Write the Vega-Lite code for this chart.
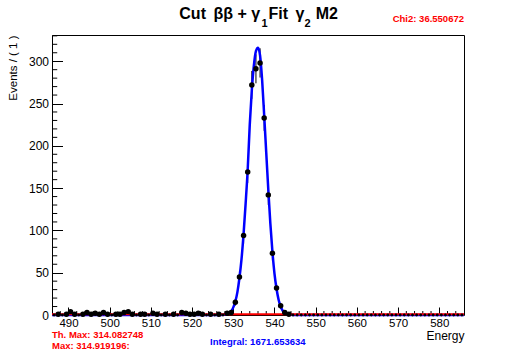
{
  "$schema": "https://vega.github.io/schema/vega-lite/v6.json",
  "width": 412,
  "height": 280,
  "autosize": {"type": "none"},
  "padding": {"left": 52, "top": 35, "right": 52, "bottom": 36},
  "background": "white",
  "config": {
    "view": {"stroke": "black", "strokeWidth": 1},
    "font": "Liberation Sans",
    "axis": {"labelFont": "Liberation Sans", "titleFont": "Liberation Sans", "labelColor": "black", "titleColor": "black", "tickColor": "black", "grid": false, "domain": false, "labelFlush": false}
  },
  "datasets": {
    "hist": [
      {"x": 486.5, "n": 0, "lo": 0, "hi": 1.15}, {"x": 487.5, "n": 1, "lo": 0, "hi": 2}, {"x": 488.5, "n": 0, "lo": 0, "hi": 1.15}, {"x": 489.5, "n": 1, "lo": 0, "hi": 2},
      {"x": 490.5, "n": 4, "lo": 2, "hi": 6}, {"x": 491.5, "n": 1, "lo": 0, "hi": 2}, {"x": 492.5, "n": 0, "lo": 0, "hi": 1.15}, {"x": 493.5, "n": 1, "lo": 0, "hi": 2},
      {"x": 494.5, "n": 3, "lo": 1.27, "hi": 4.73}, {"x": 495.5, "n": 1, "lo": 0, "hi": 2}, {"x": 496.5, "n": 2, "lo": 0.59, "hi": 3.41}, {"x": 497.5, "n": 1, "lo": 0, "hi": 2},
      {"x": 498.5, "n": 3, "lo": 1.27, "hi": 4.73}, {"x": 499.5, "n": 1, "lo": 0, "hi": 2}, {"x": 500.5, "n": 0, "lo": 0, "hi": 1.15}, {"x": 501.5, "n": 1, "lo": 0, "hi": 2},
      {"x": 502.5, "n": 1, "lo": 0, "hi": 2}, {"x": 503.5, "n": 3, "lo": 1.27, "hi": 4.73}, {"x": 504.5, "n": 4, "lo": 2, "hi": 6}, {"x": 505.5, "n": 1, "lo": 0, "hi": 2},
      {"x": 506.5, "n": 0, "lo": 0, "hi": 1.15}, {"x": 507.5, "n": 1, "lo": 0, "hi": 2}, {"x": 508.5, "n": 1, "lo": 0, "hi": 2}, {"x": 509.5, "n": 0, "lo": 0, "hi": 1.15},
      {"x": 510.5, "n": 2, "lo": 0.59, "hi": 3.41}, {"x": 511.5, "n": 1, "lo": 0, "hi": 2}, {"x": 512.5, "n": 0, "lo": 0, "hi": 1.15}, {"x": 513.5, "n": 1, "lo": 0, "hi": 2},
      {"x": 514.5, "n": 0, "lo": 0, "hi": 1.15}, {"x": 515.5, "n": 1, "lo": 0, "hi": 2}, {"x": 516.5, "n": 0, "lo": 0, "hi": 1.15}, {"x": 517.5, "n": 3, "lo": 1.27, "hi": 4.73},
      {"x": 518.5, "n": 2, "lo": 0.59, "hi": 3.41}, {"x": 519.5, "n": 1, "lo": 0, "hi": 2}, {"x": 520.5, "n": 1, "lo": 0, "hi": 2}, {"x": 521.5, "n": 2, "lo": 0.59, "hi": 3.41},
      {"x": 522.5, "n": 1, "lo": 0, "hi": 2}, {"x": 523.5, "n": 0, "lo": 0, "hi": 1.15}, {"x": 524.5, "n": 1, "lo": 0, "hi": 2}, {"x": 525.5, "n": 0, "lo": 0, "hi": 1.15},
      {"x": 526.5, "n": 1, "lo": 0, "hi": 2}, {"x": 527.5, "n": 0, "lo": 0, "hi": 1.15}, {"x": 528.5, "n": 2, "lo": 0.59, "hi": 3.41}, {"x": 529.5, "n": 3, "lo": 1.27, "hi": 4.73},
      {"x": 530.5, "n": 15, "lo": 11.1, "hi": 18.9}, {"x": 531.5, "n": 45, "lo": 38.3, "hi": 51.7}, {"x": 532.5, "n": 94, "lo": 84.3, "hi": 103.7}, {"x": 533.5, "n": 169, "lo": 156, "hi": 182},
      {"x": 534.5, "n": 272, "lo": 255.5, "hi": 288.5}, {"x": 535.5, "n": 291, "lo": 273.9, "hi": 308.1}, {"x": 536.5, "n": 298, "lo": 280.7, "hi": 315.3}, {"x": 537.5, "n": 233, "lo": 217.7, "hi": 248.3},
      {"x": 538.5, "n": 142, "lo": 130.1, "hi": 153.9}, {"x": 539.5, "n": 73, "lo": 64.5, "hi": 81.5}, {"x": 540.5, "n": 32, "lo": 26.3, "hi": 37.7}, {"x": 541.5, "n": 11, "lo": 7.7, "hi": 14.3},
      {"x": 542.5, "n": 3, "lo": 1.27, "hi": 4.73}, {"x": 543.5, "n": 1, "lo": 0, "hi": 2},
      {"x": 544.5, "n": 0, "lo": 0, "hi": 1.15}, {"x": 545.5, "n": 0, "lo": 0, "hi": 1.15}, {"x": 546.5, "n": 0, "lo": 0, "hi": 1.15}, {"x": 547.5, "n": 0, "lo": 0, "hi": 1.15},
      {"x": 548.5, "n": 0, "lo": 0, "hi": 1.15}, {"x": 549.5, "n": 0, "lo": 0, "hi": 1.15}, {"x": 550.5, "n": 0, "lo": 0, "hi": 1.15}, {"x": 551.5, "n": 0, "lo": 0, "hi": 1.15},
      {"x": 552.5, "n": 0, "lo": 0, "hi": 1.15}, {"x": 553.5, "n": 0, "lo": 0, "hi": 1.15}, {"x": 554.5, "n": 0, "lo": 0, "hi": 1.15}, {"x": 555.5, "n": 0, "lo": 0, "hi": 1.15},
      {"x": 556.5, "n": 0, "lo": 0, "hi": 1.15}, {"x": 557.5, "n": 0, "lo": 0, "hi": 1.15}, {"x": 558.5, "n": 0, "lo": 0, "hi": 1.15}, {"x": 559.5, "n": 0, "lo": 0, "hi": 1.15},
      {"x": 560.5, "n": 0, "lo": 0, "hi": 1.15}, {"x": 561.5, "n": 0, "lo": 0, "hi": 1.15}, {"x": 562.5, "n": 0, "lo": 0, "hi": 1.15}, {"x": 563.5, "n": 0, "lo": 0, "hi": 1.15},
      {"x": 564.5, "n": 0, "lo": 0, "hi": 1.15}, {"x": 565.5, "n": 0, "lo": 0, "hi": 1.15}, {"x": 566.5, "n": 0, "lo": 0, "hi": 1.15}, {"x": 567.5, "n": 0, "lo": 0, "hi": 1.15},
      {"x": 568.5, "n": 0, "lo": 0, "hi": 1.15}, {"x": 569.5, "n": 0, "lo": 0, "hi": 1.15}, {"x": 570.5, "n": 0, "lo": 0, "hi": 1.15}, {"x": 571.5, "n": 0, "lo": 0, "hi": 1.15},
      {"x": 572.5, "n": 0, "lo": 0, "hi": 1.15}, {"x": 573.5, "n": 0, "lo": 0, "hi": 1.15}, {"x": 574.5, "n": 0, "lo": 0, "hi": 1.15}, {"x": 575.5, "n": 0, "lo": 0, "hi": 1.15},
      {"x": 576.5, "n": 0, "lo": 0, "hi": 1.15}, {"x": 577.5, "n": 0, "lo": 0, "hi": 1.15}, {"x": 578.5, "n": 0, "lo": 0, "hi": 1.15}, {"x": 579.5, "n": 0, "lo": 0, "hi": 1.15},
      {"x": 580.5, "n": 0, "lo": 0, "hi": 1.15}, {"x": 581.5, "n": 0, "lo": 0, "hi": 1.15}, {"x": 582.5, "n": 0, "lo": 0, "hi": 1.15}, {"x": 583.5, "n": 0, "lo": 0, "hi": 1.15},
      {"x": 584.5, "n": 0, "lo": 0, "hi": 1.15}, {"x": 585.5, "n": 0, "lo": 0, "hi": 1.15}
    ],
    "curve": [
      {"x": 486, "y": 0}, {"x": 527, "y": 0}, {"x": 528, "y": 0.5}, {"x": 529, "y": 2}, {"x": 529.5, "y": 4.5}, {"x": 530, "y": 9}, {"x": 530.5, "y": 16},
      {"x": 531, "y": 27}, {"x": 531.5, "y": 44}, {"x": 532, "y": 66}, {"x": 532.5, "y": 96}, {"x": 533, "y": 132}, {"x": 533.5, "y": 172},
      {"x": 534, "y": 225}, {"x": 534.5, "y": 266}, {"x": 535, "y": 295}, {"x": 535.5, "y": 312}, {"x": 536, "y": 316}, {"x": 536.5, "y": 307},
      {"x": 537, "y": 278}, {"x": 537.5, "y": 236}, {"x": 538, "y": 192}, {"x": 538.5, "y": 148}, {"x": 539, "y": 108}, {"x": 539.5, "y": 75},
      {"x": 540, "y": 49}, {"x": 540.5, "y": 31}, {"x": 541, "y": 18}, {"x": 541.5, "y": 10}, {"x": 542, "y": 5}, {"x": 542.5, "y": 2.5},
      {"x": 543, "y": 1.2}, {"x": 544, "y": 0.3}, {"x": 545, "y": 0}, {"x": 586, "y": 0}
    ],
    "bkg": [{"x": 486, "y": 0.8}, {"x": 586, "y": 0.8}],
    "xminor": [{"v": 488}, {"v": 492}, {"v": 494}, {"v": 496}, {"v": 498}, {"v": 502}, {"v": 504}, {"v": 506}, {"v": 508}, {"v": 512}, {"v": 514}, {"v": 516}, {"v": 518},
      {"v": 522}, {"v": 524}, {"v": 526}, {"v": 528}, {"v": 532}, {"v": 534}, {"v": 536}, {"v": 538}, {"v": 542}, {"v": 544}, {"v": 546}, {"v": 548},
      {"v": 552}, {"v": 554}, {"v": 556}, {"v": 558}, {"v": 562}, {"v": 564}, {"v": 566}, {"v": 568}, {"v": 572}, {"v": 574}, {"v": 576}, {"v": 578},
      {"v": 582}, {"v": 584}],
    "yminor": [{"v": 10}, {"v": 20}, {"v": 30}, {"v": 40}, {"v": 60}, {"v": 70}, {"v": 80}, {"v": 90}, {"v": 110}, {"v": 120}, {"v": 130}, {"v": 140},
      {"v": 160}, {"v": 170}, {"v": 180}, {"v": 190}, {"v": 210}, {"v": 220}, {"v": 230}, {"v": 240}, {"v": 260}, {"v": 270}, {"v": 280}, {"v": 290},
      {"v": 310}, {"v": 320}, {"v": 330}]
  },
  "layer": [
    {
      "data": {"name": "xminor"},
      "mark": {"type": "rule", "color": "black", "strokeWidth": 1},
      "encoding": {
        "x": {"field": "v", "type": "quantitative", "scale": {"domain": [486, 586], "nice": false, "zero": false},
          "axis": {"values": [490, 500, 510, 520, 530, 540, 550, 560, 570, 580], "tickSize": -8, "tickWidth": 1, "labelPadding": 10, "labelFontSize": 11.5,
            "title": "Energy", "titleAnchor": "end", "titleFontSize": 12, "titleFontWeight": "normal", "titlePadding": 2}},
        "y": {"datum": 0, "type": "quantitative", "scale": {"domain": [0, 331], "nice": false, "zero": false},
          "axis": {"values": [0, 50, 100, 150, 200, 250, 300], "tickSize": -10.5, "tickWidth": 1, "labelPadding": 14, "labelFontSize": 12,
            "title": "Events / ( 1 )", "titleAnchor": "end", "titleFontSize": 11.5, "titleFontWeight": "normal", "titlePadding": 10}},
        "y2": {"datum": 4.7}
      }
    },
    {
      "data": {"name": "yminor"},
      "mark": {"type": "rule", "color": "black", "strokeWidth": 1},
      "encoding": {
        "y": {"field": "v", "type": "quantitative"},
        "x": {"datum": 486, "type": "quantitative"},
        "x2": {"datum": 487.27}
      }
    },
    {
      "data": {"name": "hist"},
      "mark": {"type": "rule", "color": "black", "strokeWidth": 1},
      "encoding": {
        "x": {"field": "x", "type": "quantitative"},
        "y": {"field": "lo", "type": "quantitative"},
        "y2": {"field": "hi"}
      }
    },
    {
      "data": {"name": "curve"},
      "mark": {"type": "line", "color": "#0000ff", "strokeWidth": 2.5, "interpolate": "monotone"},
      "encoding": {
        "x": {"field": "x", "type": "quantitative"},
        "y": {"field": "y", "type": "quantitative"}
      }
    },
    {
      "data": {"name": "bkg"},
      "mark": {"type": "line", "color": "#ff0000", "strokeWidth": 2},
      "encoding": {
        "x": {"field": "x", "type": "quantitative"},
        "y": {"field": "y", "type": "quantitative"}
      }
    },
    {
      "data": {"name": "hist"},
      "mark": {"type": "circle", "color": "black", "opacity": 1},
      "encoding": {
        "x": {"field": "x", "type": "quantitative"},
        "y": {"field": "n", "type": "quantitative"},
        "size": {"condition": {"test": "datum.n > 0", "value": 30}, "value": 8}
      }
    },
    {
      "data": {"values": [{}]},
      "mark": {"type": "text", "font": "Liberation Sans", "fontWeight": "bold", "fontSize": 16, "align": "left", "baseline": "alphabetic", "color": "black"},
      "encoding": {"x": {"datum": 516.9, "type": "quantitative"}, "y": {"datum": 349.5, "type": "quantitative"}, "text": {"value": "Cut"}}
    },
    {
      "data": {"values": [{}]},
      "mark": {"type": "text", "font": "Liberation Sans", "fontWeight": "bold", "fontSize": 16, "align": "left", "baseline": "alphabetic", "color": "black"},
      "encoding": {"x": {"datum": 525.2, "type": "quantitative"}, "y": {"datum": 349.5, "type": "quantitative"}, "text": {"value": "ββ + γ"}}
    },
    {
      "data": {"values": [{}]},
      "mark": {"type": "text", "font": "Liberation Sans", "fontWeight": "bold", "fontSize": 11, "align": "left", "baseline": "alphabetic", "color": "black"},
      "encoding": {"x": {"datum": 536.85, "type": "quantitative"}, "y": {"datum": 340.5, "type": "quantitative"}, "text": {"value": "1"}}
    },
    {
      "data": {"values": [{}]},
      "mark": {"type": "text", "font": "Liberation Sans", "fontWeight": "bold", "fontSize": 16, "align": "left", "baseline": "alphabetic", "color": "black"},
      "encoding": {"x": {"datum": 538.55, "type": "quantitative"}, "y": {"datum": 349.5, "type": "quantitative"}, "text": {"value": "Fit"}}
    },
    {
      "data": {"values": [{}]},
      "mark": {"type": "text", "font": "Liberation Sans", "fontWeight": "bold", "fontSize": 16, "align": "left", "baseline": "alphabetic", "color": "black"},
      "encoding": {"x": {"datum": 545.1, "type": "quantitative"}, "y": {"datum": 349.5, "type": "quantitative"}, "text": {"value": "γ"}}
    },
    {
      "data": {"values": [{}]},
      "mark": {"type": "text", "font": "Liberation Sans", "fontWeight": "bold", "fontSize": 11, "align": "left", "baseline": "alphabetic", "color": "black"},
      "encoding": {"x": {"datum": 547.3, "type": "quantitative"}, "y": {"datum": 340.5, "type": "quantitative"}, "text": {"value": "2"}}
    },
    {
      "data": {"values": [{}]},
      "mark": {"type": "text", "font": "Liberation Sans", "fontWeight": "bold", "fontSize": 16, "align": "left", "baseline": "alphabetic", "color": "black"},
      "encoding": {"x": {"datum": 550.0, "type": "quantitative"}, "y": {"datum": 349.5, "type": "quantitative"}, "text": {"value": "M2"}}
    },
    {
      "data": {"values": [{}]},
      "mark": {"type": "text", "font": "Liberation Sans", "fontWeight": "bold", "fontSize": 9.5, "align": "right", "baseline": "alphabetic", "color": "#ff0000"},
      "encoding": {"x": {"datum": 586, "type": "quantitative"}, "y": {"datum": 346, "type": "quantitative"}, "text": {"value": "Chi2: 36.550672"}}
    },
    {
      "data": {"values": [{}]},
      "mark": {"type": "text", "font": "Liberation Sans", "fontWeight": "bold", "fontSize": 9.5, "align": "left", "baseline": "alphabetic", "color": "#ff0000"},
      "encoding": {"x": {"datum": 486, "type": "quantitative"}, "y": {"datum": -27.6, "type": "quantitative"}, "text": {"value": "Th. Max: 314.082748"}}
    },
    {
      "data": {"values": [{}]},
      "mark": {"type": "text", "font": "Liberation Sans", "fontWeight": "bold", "fontSize": 9.5, "align": "left", "baseline": "alphabetic", "color": "#ff0000"},
      "encoding": {"x": {"datum": 486, "type": "quantitative"}, "y": {"datum": -40.2, "type": "quantitative"}, "text": {"value": "Max: 314.919196:"}}
    },
    {
      "data": {"values": [{}]},
      "mark": {"type": "text", "font": "Liberation Sans", "fontWeight": "bold", "fontSize": 9.5, "align": "left", "baseline": "alphabetic", "color": "#0000ff"},
      "encoding": {"x": {"datum": 524.35, "type": "quantitative"}, "y": {"datum": -35.3, "type": "quantitative"}, "text": {"value": "Integral: 1671.653634"}}
    }
  ]
}
